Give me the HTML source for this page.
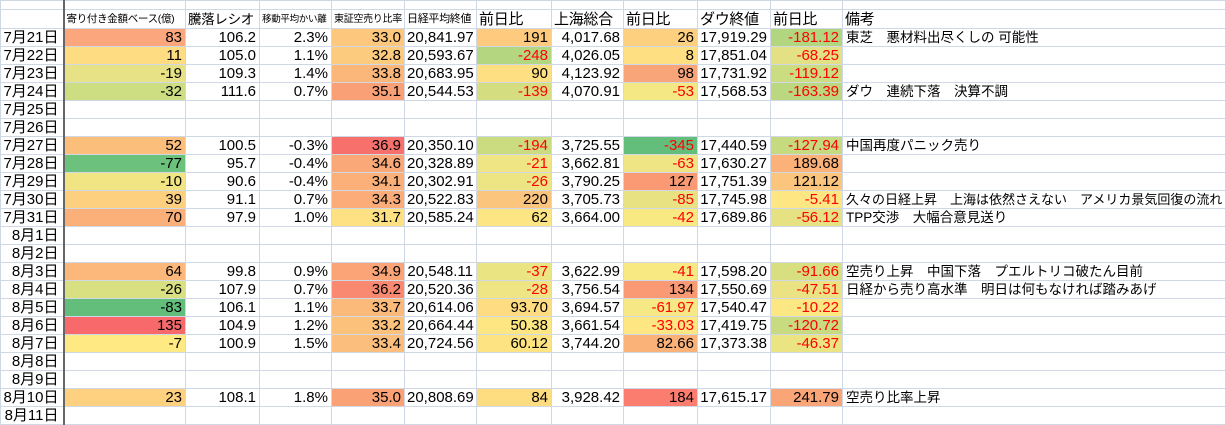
<!DOCTYPE html>
<html><head><meta charset="utf-8"><style>
body{margin:0;background:#fff;width:1225px;height:417px;overflow:hidden;font-family:"Liberation Sans","Noto Sans CJK JP",sans-serif;}
table{border-collapse:collapse;table-layout:fixed;position:absolute;left:0;top:0;width:1225px;}
td{border:1px solid #d0d7e5;height:17px;padding:0 3px 0 2px;font-size:15px;line-height:17px;text-align:right;white-space:nowrap;overflow:hidden;color:#000;box-sizing:border-box;}
td.a{border-right:2px solid #666;padding-right:4px}
tr.t td{height:9px;}
tr.h td{height:19px;text-align:left;vertical-align:bottom;letter-spacing:-0.3px}
td.l{text-align:left;overflow:hidden;padding-left:3px;font-size:13.5px}
.r{color:#f00}
</style></head><body>
<table>
<colgroup><col style="width:63px"><col style="width:122px"><col style="width:74px"><col style="width:72px"><col style="width:73px"><col style="width:72px"><col style="width:75px"><col style="width:72px"><col style="width:74px"><col style="width:73px"><col style="width:72px"><col style="width:383px"></colgroup>
<tr class="t"><td class="a"></td><td></td><td></td><td></td><td></td><td></td><td></td><td></td><td></td><td></td><td></td><td></td></tr>
<tr class="h"><td class="a"></td><td style="font-size:10.5px">寄り付き金額ベース(億)</td><td style="font-size:13.5px">騰落レシオ</td><td style="font-size:9.5px">移動平均かい離</td><td style="font-size:10px">東証空売り比率</td><td style="font-size:11px">日経平均終値</td><td>前日比</td><td>上海総合</td><td>前日比</td><td>ダウ終値</td><td>前日比</td><td style="font-size:15px">備考</td></tr>
<tr><td class="a">7月21日</td><td style="background:#fba67c">83</td><td>106.2</td><td>2.3%</td><td style="background:#fdc77e">33.0</td><td>20,841.97</td><td style="background:#fdca7e">191</td><td>4,017.68</td><td style="background:#fdd07f">26</td><td>17,919.29</td><td class="r" style="background:#b2d680">-181.12</td><td class="l">東芝　悪材料出尽くしの 可能性</td></tr>
<tr><td class="a">7月22日</td><td style="background:#fddc82">11</td><td>105.0</td><td>1.1%</td><td style="background:#fdcb7e">32.8</td><td>20,593.67</td><td class="r" style="background:#b5d680">-248</td><td>4,026.05</td><td style="background:#fee082">8</td><td>17,851.04</td><td class="r" style="background:#e3e183">-68.25</td><td class="l"></td></tr>
<tr><td class="a">7月23日</td><td style="background:#e6e285">-19</td><td>109.3</td><td>1.4%</td><td style="background:#fbb77a">33.8</td><td>20,683.95</td><td style="background:#fee082">90</td><td>4,123.92</td><td style="background:#f9a57a">98</td><td>17,731.92</td><td class="r" style="background:#ccdc81">-119.12</td><td class="l"></td></tr>
<tr><td class="a">7月24日</td><td style="background:#cddd82">-32</td><td>111.6</td><td>0.7%</td><td style="background:#f9a077">35.1</td><td>20,544.53</td><td class="r" style="background:#d4de81">-139</td><td>4,070.91</td><td class="r" style="background:#f4e884">-53</td><td>17,568.53</td><td class="r" style="background:#bbd880">-163.39</td><td class="l">ダウ　連続下落　決算不調</td></tr>
<tr><td class="a">7月25日</td><td></td><td></td><td></td><td></td><td></td><td></td><td></td><td></td><td></td><td></td><td></td></tr>
<tr><td class="a">7月26日</td><td></td><td></td><td></td><td></td><td></td><td></td><td></td><td></td><td></td><td></td><td></td></tr>
<tr><td class="a">7月27日</td><td style="background:#fcbe7b">52</td><td>100.5</td><td>-0.3%</td><td style="background:#f8706c">36.9</td><td>20,350.10</td><td class="r" style="background:#cadb80">-194</td><td>3,725.55</td><td class="r" style="background:#63be7b">-345</td><td>17,440.59</td><td class="r" style="background:#c6da80">-127.94</td><td class="l">中国再度パニック売り</td></tr>
<tr><td class="a">7月28日</td><td style="background:#6cc17c">-77</td><td>95.7</td><td>-0.4%</td><td style="background:#fba878">34.6</td><td>20,328.89</td><td class="r" style="background:#f0e584">-21</td><td>3,662.81</td><td class="r" style="background:#f0e584">-63</td><td>17,630.27</td><td style="background:#fbb178">189.68</td><td class="l"></td></tr>
<tr><td class="a">7月29日</td><td style="background:#f0e483">-10</td><td>90.6</td><td>-0.4%</td><td style="background:#fbaf79">34.1</td><td>20,302.91</td><td class="r" style="background:#ede484">-26</td><td>3,790.25</td><td style="background:#f99a74">127</td><td>17,751.39</td><td style="background:#fcc57d">121.12</td><td class="l"></td></tr>
<tr><td class="a">7月30日</td><td style="background:#fdd07f">39</td><td>91.1</td><td>0.7%</td><td style="background:#fbac78">34.3</td><td>20,522.83</td><td style="background:#fcc57d">220</td><td>3,705.73</td><td class="r" style="background:#e8e283">-85</td><td>17,745.98</td><td class="r" style="background:#fee683">-5.41</td><td class="l" style="font-size:13px">久々の日経上昇　上海は依然さえない　アメリカ景気回復の流れ</td></tr>
<tr><td class="a">7月31日</td><td style="background:#fbaf79">70</td><td>97.9</td><td>1.0%</td><td style="background:#fee182">31.7</td><td>20,585.24</td><td style="background:#fee583">62</td><td>3,664.00</td><td class="r" style="background:#f9e983">-42</td><td>17,689.86</td><td class="r" style="background:#e6e283">-56.12</td><td class="l">TPP交渉　大幅合意見送り</td></tr>
<tr><td class="a">8月1日</td><td></td><td></td><td></td><td></td><td></td><td></td><td></td><td></td><td></td><td></td><td></td></tr>
<tr><td class="a">8月2日</td><td></td><td></td><td></td><td></td><td></td><td></td><td></td><td></td><td></td><td></td><td></td></tr>
<tr><td class="a">8月3日</td><td style="background:#fbb87a">64</td><td>99.8</td><td>0.9%</td><td style="background:#fba477">34.9</td><td>20,548.11</td><td class="r" style="background:#ebe483">-37</td><td>3,622.99</td><td class="r" style="background:#f9e983">-41</td><td>17,598.20</td><td class="r" style="background:#d7df81">-91.66</td><td class="l">空売り上昇　中国下落　プエルトリコ破たん目前</td></tr>
<tr><td class="a">8月4日</td><td style="background:#d9e081">-26</td><td>107.9</td><td>0.7%</td><td style="background:#f98971">36.2</td><td>20,520.36</td><td class="r" style="background:#f0e584">-28</td><td>3,756.54</td><td style="background:#f99a74">134</td><td>17,550.69</td><td class="r" style="background:#ebe383">-47.51</td><td class="l">日経から売り高水準　明日は何もなければ踏みあげ</td></tr>
<tr><td class="a">8月5日</td><td style="background:#63be7b">-83</td><td>106.1</td><td>1.1%</td><td style="background:#fbb97a">33.7</td><td>20,614.06</td><td style="background:#fedc81">93.70</td><td>3,694.57</td><td class="r" style="background:#f6e884">-61.97</td><td>17,540.47</td><td class="r" style="background:#fbe883">-10.22</td><td class="l"></td></tr>
<tr><td class="a">8月6日</td><td style="background:#f8696b">135</td><td>104.9</td><td>1.2%</td><td style="background:#fcc27c">33.2</td><td>20,664.44</td><td style="background:#fee683">50.38</td><td>3,661.54</td><td class="r" style="background:#fee683">-33.03</td><td>17,419.75</td><td class="r" style="background:#c9db80">-120.72</td><td class="l"></td></tr>
<tr><td class="a">8月7日</td><td style="background:#fee983">-7</td><td>100.9</td><td>1.5%</td><td style="background:#fcbe7c">33.4</td><td>20,724.56</td><td style="background:#fee383">60.12</td><td>3,744.20</td><td style="background:#fbb279">82.66</td><td>17,373.38</td><td class="r" style="background:#ebe483">-46.37</td><td class="l"></td></tr>
<tr><td class="a">8月8日</td><td></td><td></td><td></td><td></td><td></td><td></td><td></td><td></td><td></td><td></td><td></td></tr>
<tr><td class="a">8月9日</td><td></td><td></td><td></td><td></td><td></td><td></td><td></td><td></td><td></td><td></td><td></td></tr>
<tr><td class="a">8月10日</td><td style="background:#fdd17f">23</td><td>108.1</td><td>1.8%</td><td style="background:#faa276">35.0</td><td>20,808.69</td><td style="background:#fedd81">84</td><td>3,928.42</td><td style="background:#fa7d6f">184</td><td>17,615.17</td><td style="background:#f9a577">241.79</td><td class="l">空売り比率上昇</td></tr>
<tr><td class="a">8月11日</td><td></td><td></td><td></td><td></td><td></td><td></td><td></td><td></td><td></td><td></td><td></td></tr>
</table>
</body></html>
